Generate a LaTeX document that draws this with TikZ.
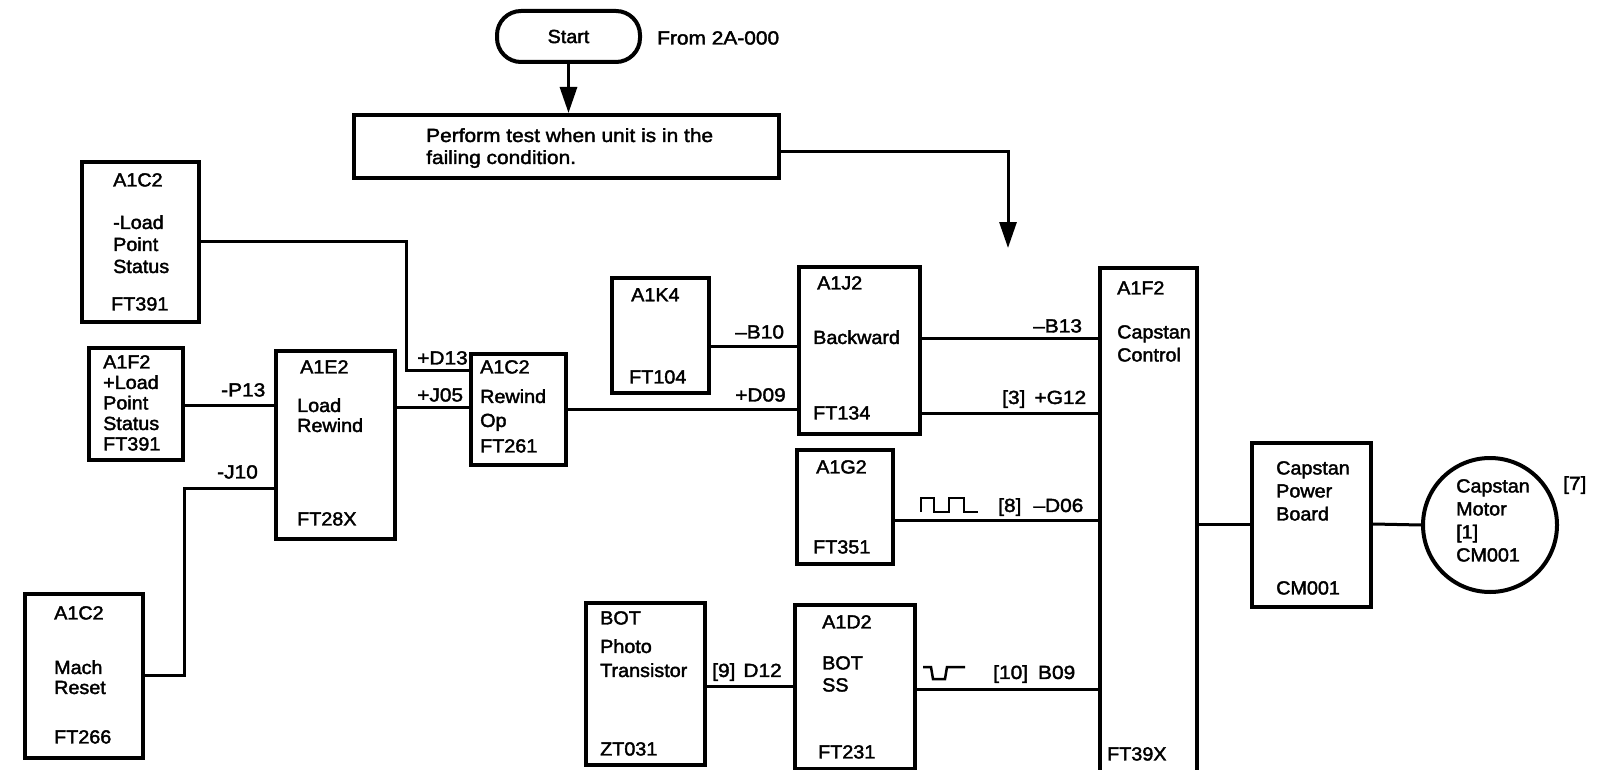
\documentclass[tikz,border=0pt]{standalone}
\usepackage{fontspec}
\setmainfont[FakeStretch=1.04,FakeBold=2]{Liberation Sans}
\newfontfamily\widefont[FakeStretch=1.1,FakeBold=2]{Liberation Sans}
\usetikzlibrary{arrows.meta}
\newcommand\lbl{\fontsize{19}{22}\selectfont}
\begin{document}
\begin{tikzpicture}[x=1pt,y=-1pt,
  blk/.style={draw, line width=4pt, rectangle, inner sep=0pt, anchor=north west},
  wire/.style={line width=3pt},
  wave/.style={line width=2.5pt},
  txt/.style={anchor=north west, inner sep=0pt, align=left, font=\fontsize{19}{#1}\selectfont},
  txt/.default=22,
  sig/.style={anchor=north west, inner sep=0pt, font=\widefont\fontsize{19}{22}\selectfont},
  arr/.style={wire, -{Triangle[length=26pt,width=17pt]}}]
\fill[white] (0,0) rectangle (1597,770);
\useasboundingbox (0,0) rectangle (1597,770);

% ---- top
\node[draw, line width=4pt, rounded corners=24pt, minimum width=143pt, minimum height=51pt, inner sep=0pt, font=\lbl] (start) at (568.5,36.5) {Start};
\node[sig] (from) at (657,31) {From 2A-000};
\node[blk, minimum width=425pt, minimum height=63pt] (perform) at (352,113) {};
\node[anchor=north west, inner sep=0pt, align=left, font=\widefont\fontsize{19}{22}\selectfont] (perftxt) at (426,128) {Perform test when unit is in the\\failing condition.};
\coordinate (tipR) at (1008,248);

% ---- boxes
\node[blk, minimum width=117pt, minimum height=160pt] (a1c2t) at (80,160) {};
\node[blk, minimum width=94pt, minimum height=112pt] (a1f2) at (87,346) {};
\node[blk, minimum width=119pt, minimum height=188pt] (a1e2) at (274,349) {};
\node[blk, minimum width=95pt, minimum height=111pt] (rew) at (469,352) {};
\node[blk, minimum width=118pt, minimum height=164pt] (mach) at (23,592) {};
\node[blk, minimum width=97pt, minimum height=115pt] (a1k4) at (610,276) {};
\node[blk, minimum width=121pt, minimum height=167pt] (a1j2) at (797,265) {};
\node[blk, minimum width=96pt, minimum height=114pt] (a1g2) at (795,448) {};
\node[blk, minimum width=119pt, minimum height=162pt] (botpt) at (584,601) {};
\node[blk, minimum width=120pt, minimum height=164pt] (a1d2) at (793,603) {};
\node[anchor=north west, inner sep=0pt, minimum width=97pt, minimum height=504pt] (ctrl) at (1100,268) {};
\draw[line width=4pt] (ctrl.south west) -- (ctrl.north west) -- (ctrl.north east) -- (ctrl.south east);
\node[blk, minimum width=119pt, minimum height=164pt] (pwr) at (1250,441) {};
\node[draw, circle, line width=4pt, minimum size=134pt, inner sep=0pt] (motor) at (1490,525) {};

% ---- texts in boxes
\node[txt] (t1) at (113,173) {A1C2};
\node[txt] (t2) at (113,215) {-Load\\Point\\Status};
\node[txt] (t3) at (111,297) {FT391};
\node[txt=20.5] (t4) at (103,355) {A1F2\\+Load\\Point\\Status\\FT391};
\node[txt] (t5) at (300,360) {A1E2};
\node[txt=20] (t6) at (297,398) {Load\\Rewind};
\node[txt] (t7) at (297,512) {FT28X};
\node[txt] (t8) at (480,360) {A1C2};
\node[txt=24] (t9) at (480,389) {Rewind\\Op};
\node[txt] (t10) at (480,439) {FT261};
\node[txt] (t11) at (54,606) {A1C2};
\node[txt=20] (t12) at (54,660) {Mach\\Reset};
\node[txt] (t13) at (54,730) {FT266};
\node[txt] (t14) at (631,288) {A1K4};
\node[txt] (t15) at (629,370) {FT104};
\node[txt] (t16) at (817,276) {A1J2};
\node[txt] (t17) at (813,330) {Backward};
\node[txt] (t18) at (813,406) {FT134};
\node[txt] (t19) at (816,460) {A1G2};
\node[txt] (t20) at (813,540) {FT351};
\node[txt] (t21) at (600,611) {BOT};
\node[txt=24] (t22) at (600,639) {Photo\\Transistor};
\node[txt] (t23) at (600,742) {ZT031};
\node[txt] (t24) at (822,615) {A1D2};
\node[txt] (t25) at (822,656) {BOT\\SS};
\node[txt] (t26) at (818,745) {FT231};
\node[txt] (t27) at (1117,281) {A1F2};
\node[txt=23] (t28) at (1117,325) {Capstan\\Control};
\node[txt] (t29) at (1107,747) {FT39X};
\node[txt=23] (t30) at (1276,461) {Capstan\\Power\\Board};
\node[txt] (t31) at (1276,581) {CM001};
\node[txt=23] (t32) at (1456,479) {Capstan\\Motor\\{[1]}\\CM001};
\node[sig] (t33) at (1563,476) {[7]};

% ---- signal labels
\node[sig] (lp13) at (221,383) {-P13};
\node[sig] (ld13) at (417,351) {+D13};
\node[sig] (lj05) at (417,388) {+J05};
\node[sig] (lj10) at (217,465) {-J10};
\node[sig] (lb10) at (735,325) {–B10};
\node[sig] (ld09) at (735,388) {+D09};
\node[sig] (lb13) at (1033,319) {–B13};
\node[sig] (lg12) at (1002,390) {[3]\hspace{9pt}+G12};
\node[sig] (ld06) at (998,498) {[8]\hspace{12pt}–D06};
\node[sig] (ld12) at (712,663) {[9]\hspace{8pt}D12};
\node[sig] (lb09) at (993,665) {[10]\hspace{10pt}B09};

% ---- connectors
\draw[arr] (start.south) -- (start.south |- perform.north);
\draw[arr] (perform.east |- 0,152) -| (tipR);
\draw[wire] (a1c2t.east |- 0,241) -| (406,370) -- (rew.west |- 0,370);
\draw[wire] (a1f2.east |- 0,405) -- (a1e2.west |- 0,405);
\draw[wire] (a1e2.east |- 0,407) -- (rew.west |- 0,407);
\draw[wire] (mach.east |- 0,675) -| (184,488) -- (a1e2.west |- 0,488);
\draw[wire] (rew.east |- 0,409) -- (a1j2.west |- 0,409);
\draw[wire] (a1k4.east |- 0,346) -- (a1j2.west |- 0,346);
\draw[wire] (a1j2.east |- 0,338) -- (ctrl.west |- 0,338);
\draw[wire] (a1j2.east |- 0,413) -- (ctrl.west |- 0,413);
\draw[wire] (a1g2.east |- 0,520) -- (ctrl.west |- 0,520);
\draw[wire] (botpt.east |- 0,686) -- (a1d2.west |- 0,686);
\draw[wire] (a1d2.east |- 0,689) -- (ctrl.west |- 0,689);
\draw[wire] (ctrl.east |- 0,524) -- (pwr.west |- 0,524);
\draw[wire] (pwr.east |- 0,524) -- (motor.west);

% ---- waveforms
\draw[wave] (921,512) -- (921,498) -- (934,498) -- (934,512) -- (949,512) -- (949,498) -- (964,498) -- (964,512) -- (978,512);
\draw[wave] (923,667) -- (931,667) -- (933,679) -- (945,679) -- (947,667) -- (965,667);
\end{tikzpicture}
\end{document}
